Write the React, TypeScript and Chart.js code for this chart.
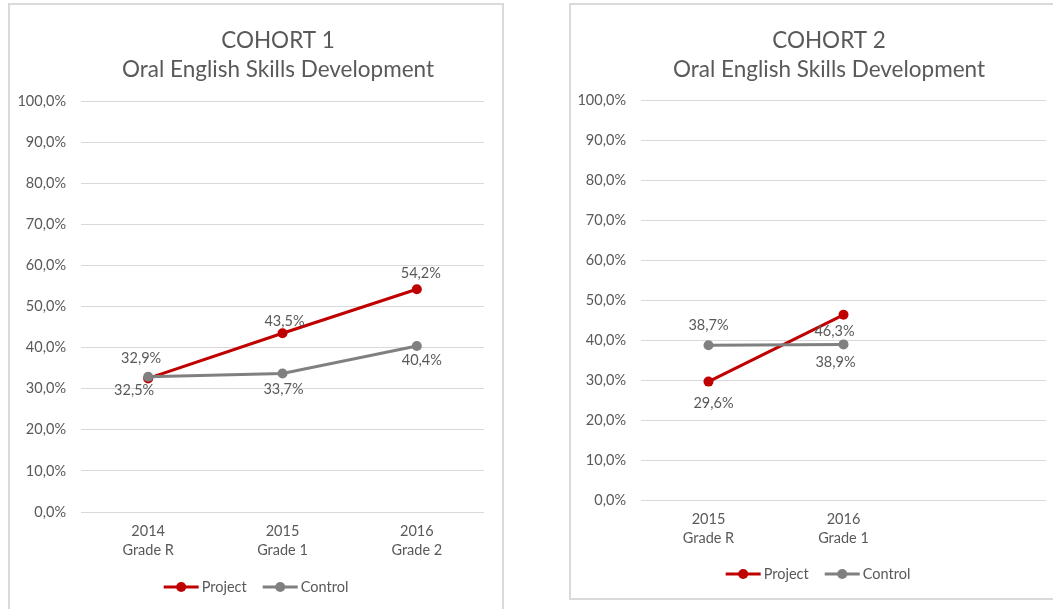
import React, { useEffect, useRef } from "react";
import { Chart, registerables } from "chart.js";

Chart.register(...registerables);

// ---------- data ----------
const seriesNames = ["Project", "Control"];

const cohort1Title = ["COHORT 1", "Oral English Skills Development"];
const cohort1Categories = [["2014", "Grade R"], ["2015", "Grade 1"], ["2016", "Grade 2"]];
const cohort1Project = [32.5, 43.5, 54.2];
const cohort1Control = [32.9, 33.7, 40.4];

const cohort2Title = ["COHORT 2", "Oral English Skills Development"];
const cohort2Categories = [["2015", "Grade R"], ["2016", "Grade 1"], ""];
const cohort2Project = [29.6, 46.3, null];
const cohort2Control = [38.7, 38.9, null];

const yMin = 0;
const yMax = 100;
const yStep = 10;

// label placement relative to each point [dx, dy]
const cohort1ProjectLabelOffsets = [[-14, 12], [2, -12], [4, -16]];
const cohort1ControlLabelOffsets = [[-7, -18], [1, 16], [5, 14]];
const cohort2ProjectLabelOffsets = [[5, 22], [-9, 17], [0, 0]];
const cohort2ControlLabelOffsets = [[0, -20], [-8, 18], [0, 0]];

// ---------- style ----------
const FONT = "Lato";
const TEXT = "#595959";
const GRID = "#d9d9d9";
const RED = "#C00000";
const GRAY = "#808080";
const TICK_SIZE = 14.5;
const TITLE_SIZE = 22.5;

const fmt = (v: number) => v.toFixed(1).replace(".", ",") + "%";

const decorPlugin = {
  id: "decor",
  afterDatasetsDraw(chart: any, _args: any, opts: any) {
    const ctx = chart.ctx;
    ctx.save();
    ctx.font = `${TICK_SIZE}px ${FONT}`;
    ctx.fillStyle = TEXT;
    ctx.textAlign = "center";
    ctx.textBaseline = "middle";
    chart.data.datasets.forEach((ds: any, i: number) => {
      const meta = chart.getDatasetMeta(i);
      meta.data.forEach((pt: any, j: number) => {
        const v = ds.data[j];
        if (v == null) return;
        const off = (ds.labelOffsets && ds.labelOffsets[j]) || [0, -15];
        ctx.fillText(fmt(v), pt.x + off[0], pt.y + off[1]);
      });
    });
    ctx.restore();
  },
  afterDraw(chart: any, _args: any, opts: any) {
    const ctx = chart.ctx;
    ctx.save();
    // title
    ctx.font = `${TITLE_SIZE}px ${FONT}`;
    ctx.fillStyle = TEXT;
    ctx.textAlign = "center";
    ctx.textBaseline = "middle";
    (opts.titleLines || []).forEach((line: string, i: number) => {
      ctx.fillText(line, opts.titleX, opts.titleY[i]);
    });
    // legend
    ctx.font = `${TICK_SIZE}px ${FONT}`;
    ctx.textAlign = "left";
    const lineLen = 35;
    const gap = 3;
    const itemGap = 16;
    const items = chart.data.datasets.map((ds: any) => ({
      label: ds.label,
      color: ds.borderColor,
      w: lineLen + gap + ctx.measureText(ds.label).width,
    }));
    const total = items.reduce((s: number, it: any) => s + it.w, 0) + itemGap * (items.length - 1);
    let x = chart.width / 2 - total / 2;
    const y = opts.legendY;
    items.forEach((it: any) => {
      ctx.strokeStyle = it.color;
      ctx.lineWidth = 3;
      ctx.beginPath();
      ctx.moveTo(x, y);
      ctx.lineTo(x + lineLen, y);
      ctx.stroke();
      ctx.fillStyle = it.color;
      ctx.beginPath();
      ctx.arc(x + lineLen / 2, y, 5, 0, Math.PI * 2);
      ctx.fill();
      ctx.fillStyle = TEXT;
      ctx.fillText(it.label, x + lineLen + gap, y);
      x += it.w + itemGap;
    });
    ctx.restore();
  },
};

type Props = {
  categories: any[];
  project: (number | null)[];
  control: (number | null)[];
  projectOffsets: number[][];
  controlOffsets: number[][];
  titleLines: string[];
  titleX: number;
  legendY: number;
  width: number;
  height: number;
  padding: { left: number; right: number; top: number; bottom: number };
  yWidth: number;
};

function CohortChart(p: Props) {
  const ref = useRef<HTMLCanvasElement | null>(null);
  useEffect(() => {
    if (!ref.current) return;
    const chart = new Chart(ref.current, {
      type: "line",
      data: {
        labels: p.categories,
        datasets: [
          {
            label: seriesNames[0],
            data: p.project,
            borderColor: RED,
            backgroundColor: RED,
            pointBackgroundColor: RED,
            pointBorderColor: RED,
            borderWidth: 3,
            pointRadius: 5,
            pointBorderWidth: 0,
            order: 1,
            labelOffsets: p.projectOffsets,
          } as any,
          {
            label: seriesNames[1],
            data: p.control,
            borderColor: GRAY,
            backgroundColor: GRAY,
            pointBackgroundColor: GRAY,
            pointBorderColor: GRAY,
            borderWidth: 3,
            pointRadius: 5,
            pointBorderWidth: 0,
            order: 0,
            labelOffsets: p.controlOffsets,
          } as any,
        ],
      },
      options: {
        animation: false,
        responsive: false,
        maintainAspectRatio: false,
        layout: { padding: p.padding },
        plugins: {
          legend: { display: false },
          title: { display: false },
          tooltip: { enabled: false },
          decor: { titleLines: p.titleLines, titleX: p.titleX, titleY: [36, 65], legendY: p.legendY },
        } as any,
        scales: {
          x: {
            offset: true,
            grid: { display: false, drawTicks: false },
            border: { display: false },
            ticks: {
              color: TEXT,
              font: { family: FONT, size: TICK_SIZE, lineHeight: 1.3 },
              padding: 10,
              maxRotation: 0,
              autoSkip: false,
            },
            afterFit: (s: any) => {
              s.height = 50;
            },
          },
          y: {
            min: yMin,
            max: yMax,
            ticks: {
              stepSize: yStep,
              color: TEXT,
              font: { family: FONT, size: TICK_SIZE },
              padding: 15,
              callback: (v: any) => fmt(Number(v)),
            },
            grid: { color: GRID, lineWidth: 1, drawTicks: false },
            border: { display: false },
            afterFit: (s: any) => {
              s.width = p.yWidth;
            },
          },
        },
      },
      plugins: [decorPlugin],
    });
    return () => chart.destroy();
  }, []);
  return <canvas ref={ref} width={p.width} height={p.height} style={{ display: "block", width: p.width, height: p.height }} />;
}

export default function App() {
  return (
    <div style={{ position: "absolute", left: 0, top: 0, width: 1053, height: 609, overflow: "hidden", background: "#fff" }}>
      <div
        style={{
          position: "absolute",
          left: 8,
          top: 3,
          width: 496,
          height: 620,
          border: `2px solid ${GRID}`,
          boxSizing: "border-box",
        }}
      >
        <CohortChart
          categories={cohort1Categories}
          project={cohort1Project}
          control={cohort1Control}
          projectOffsets={cohort1ProjectLabelOffsets}
          controlOffsets={cohort1ControlLabelOffsets}
          titleLines={cohort1Title}
          titleX={268}
          legendY={582}
          width={492}
          height={616}
          padding={{ left: 0, right: 18, top: 96, bottom: 59 }}
          yWidth={71}
        />
      </div>
      <div
        style={{
          position: "absolute",
          left: 569,
          top: 3,
          width: 498,
          height: 597,
          border: `2px solid ${GRID}`,
          boxSizing: "border-box",
        }}
      >
        <CohortChart
          categories={cohort2Categories}
          project={cohort2Project}
          control={cohort2Control}
          projectOffsets={cohort2ProjectLabelOffsets}
          controlOffsets={cohort2ControlLabelOffsets}
          titleLines={cohort2Title}
          titleX={258}
          legendY={569}
          width={494}
          height={593}
          padding={{ left: 0, right: 19, top: 95, bottom: 48 }}
          yWidth={70}
        />
      </div>
    </div>
  );
}
